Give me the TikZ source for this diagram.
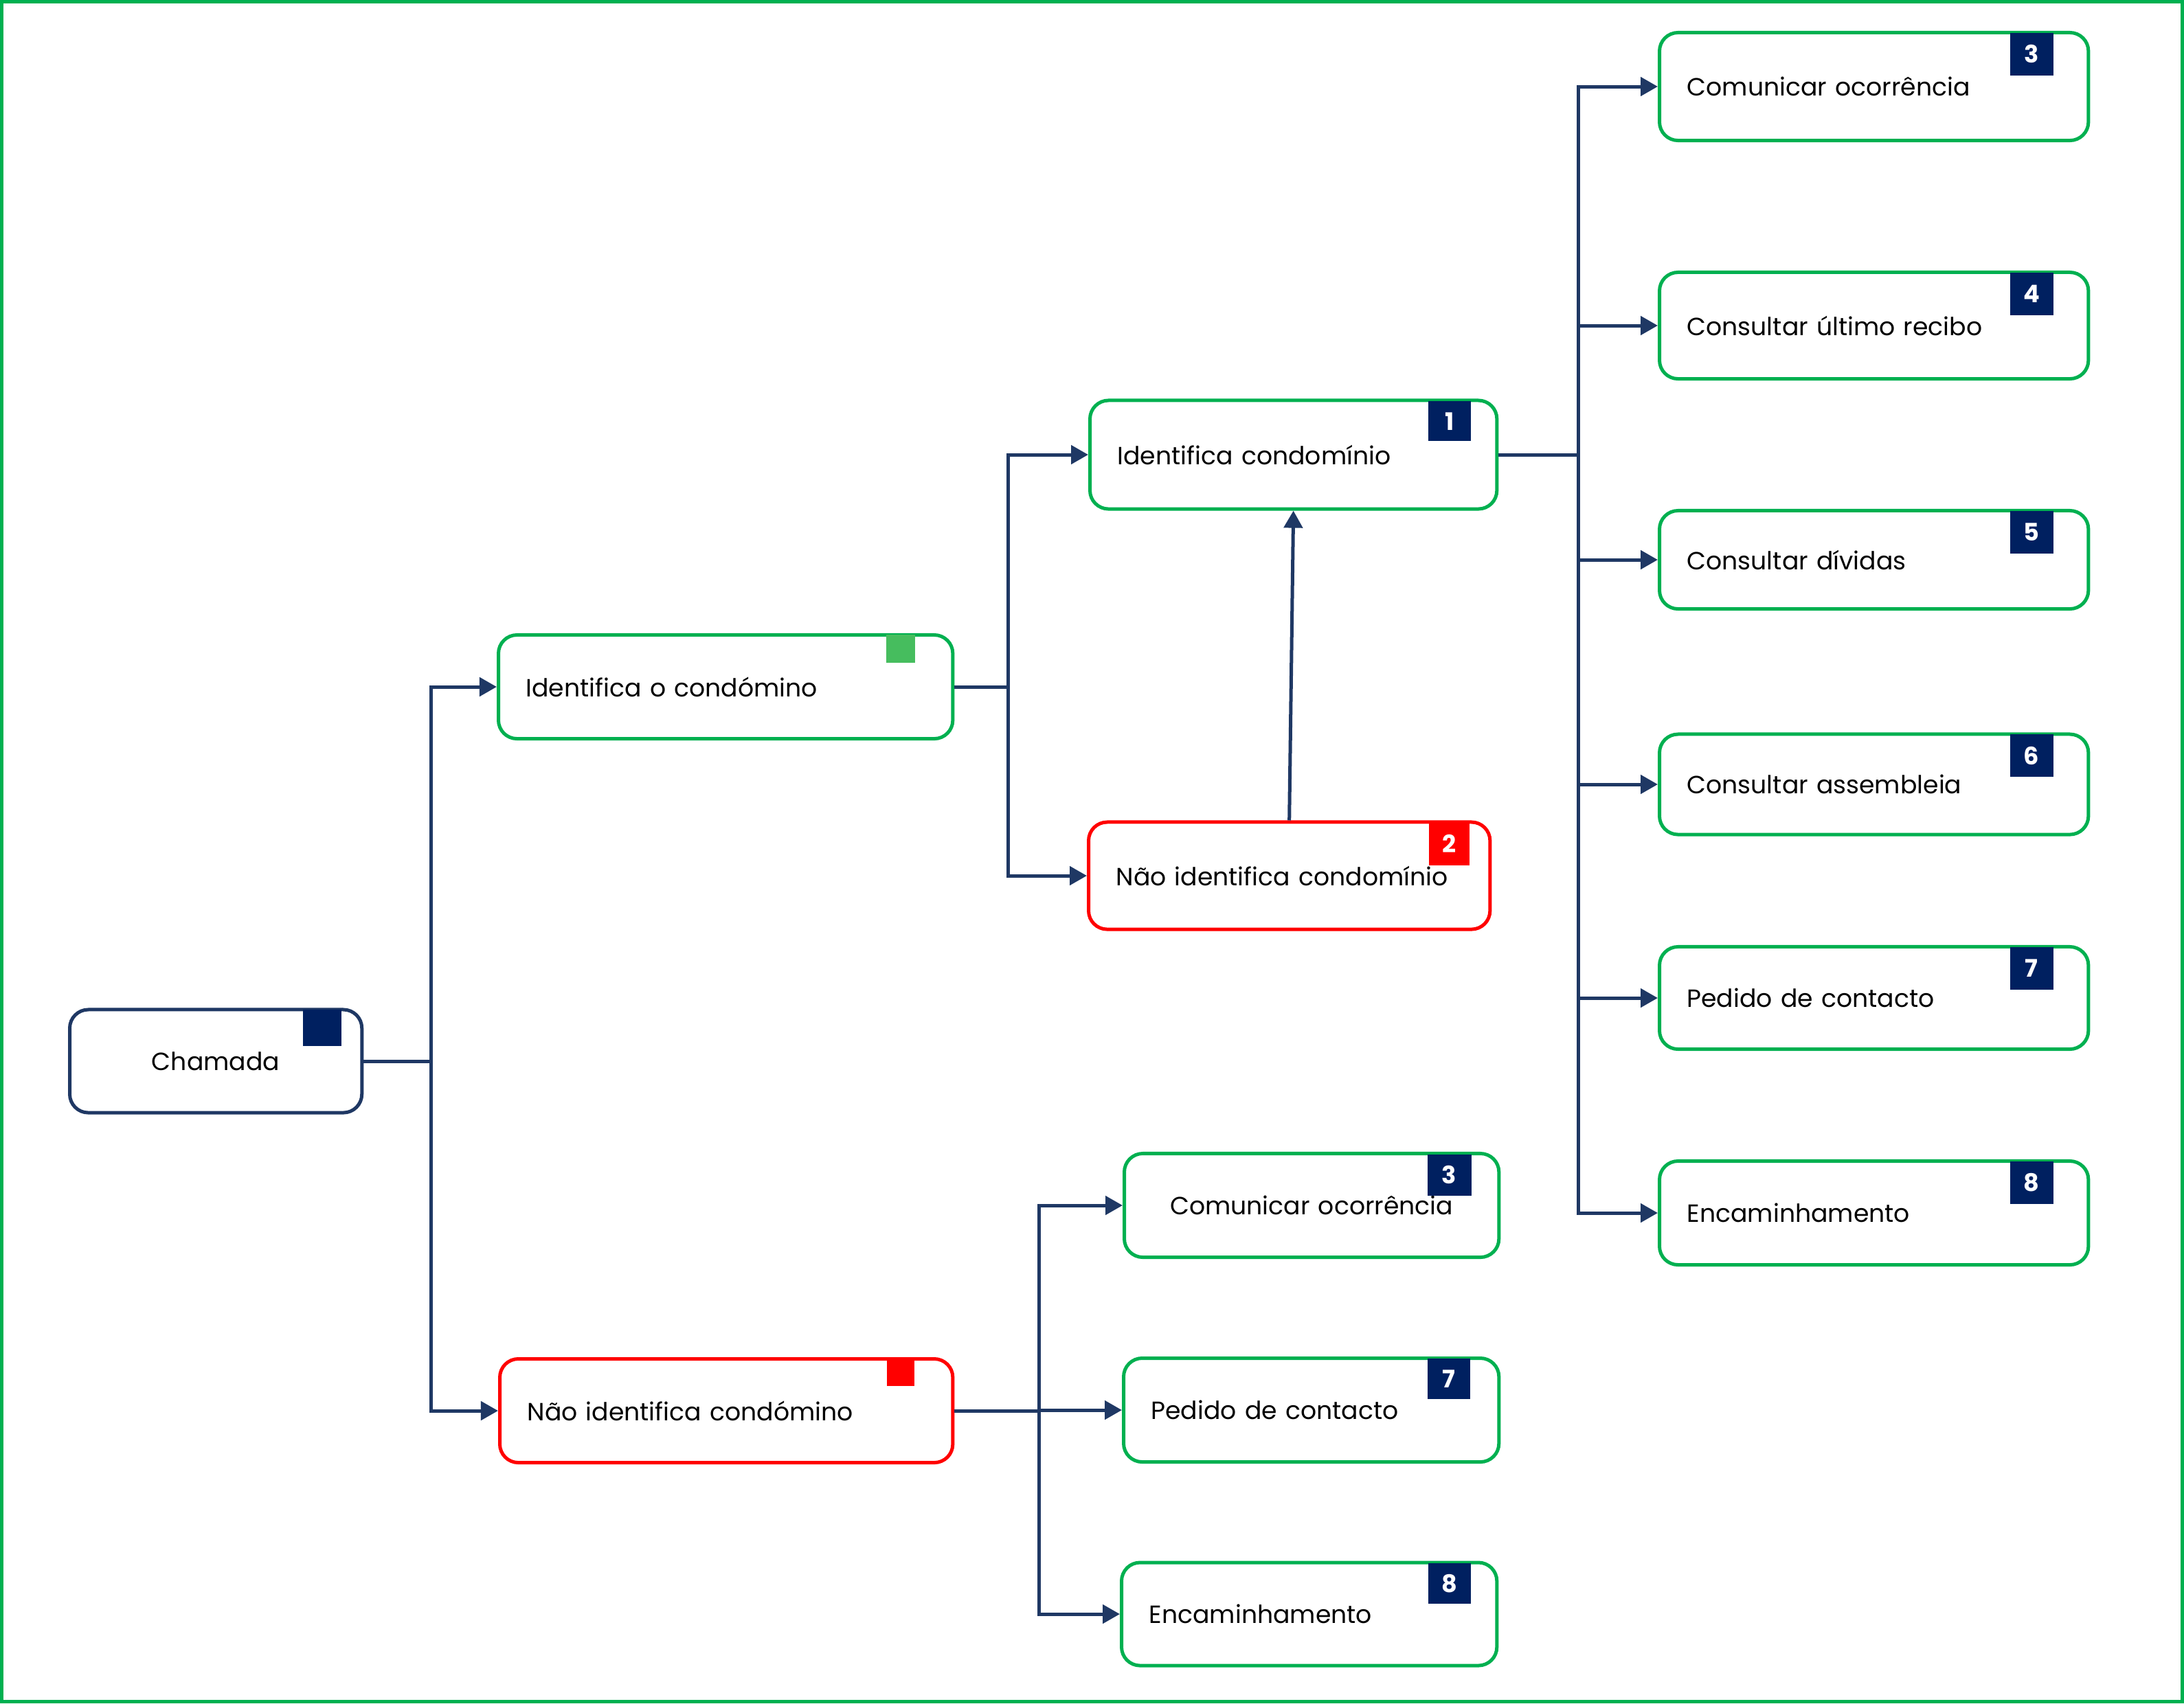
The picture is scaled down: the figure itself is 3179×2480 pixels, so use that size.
\documentclass[tikz,border=0pt]{standalone}
\usepackage{fontspec}
\setmainfont{Poppins}
\usetikzlibrary{positioning}
\usetikzlibrary{arrows.meta}
\definecolor{navy2}{RGB}{31, 56, 100}
\definecolor{tagblue}{RGB}{0, 32, 96}
\definecolor{green2}{RGB}{0, 176, 80}
\definecolor{lightgreen2}{RGB}{70, 189, 94}
\definecolor{red2}{RGB}{255, 0, 0}
\tikzset{
thickline/.style={line width=0.05cm},
box/.style={draw=#1, thickline, rounded corners=0.27cm, fill=white,
	anchor=west, inner xsep=0.4cm, inner ysep=0pt, align=left,
	font=\fontsize{10.3}{12}\selectfont},
tag/.style={fill=#1, text=white, inner sep=0pt, anchor=north east,
	font=\bfseries\fontsize{10}{12}\selectfont},
flow/.style={navy2, thickline, -{Triangle[length=0.25cm, width=0.27cm]}},
}

\begin{document}
\begin{tikzpicture}[x=0.01cm, y=-0.01cm]
\useasboundingbox (0,0) rectangle (3179,2480);
\draw[green2, line width=0.05cm] (2.5,2.5) rectangle (3176.5,2477.5);

%Place the nodes
\node[box=navy2, align=center, text width=3.45cm, minimum height=1.50cm] (cham) at (99,1545) {Chamada};
\node[box=green2, text width=5.81cm, minimum height=1.51cm] (ioc) at (723,1000) {Identifica o condómino};
\node[box=red2, text width=5.79cm, minimum height=1.51cm] (nic) at (725,2054) {Não identifica condómino};
\node[box=green2, text width=5.12cm, minimum height=1.58cm] (ic) at (1584,662) {Identifica condomínio};
\node[box=red2, text width=5.04cm, minimum height=1.56cm] (nicm) at (1582,1275) {Não identifica condomínio};

\foreach \nm/\yy/\hh/\txt/\num in {co1/126/1.57cm/Comunicar ocorrência/3,
	cur/474/1.55cm/Consultar último recibo/4, cd/815/1.43cm/Consultar dívidas/5,
	ca/1142/1.46cm/Consultar assembleia/6, pc1/1453/1.49cm/Pedido de contacto/7,
	e1/1766/1.51cm/Encaminhamento/8} {
	\node[box=green2, text width=5.44cm, minimum height=\hh] (\nm) at (2413,\yy) {\txt};
	\node[tag=tagblue, minimum width=0.63cm, minimum height=0.62cm] (t\nm) at ([xshift=-0.53cm, yshift=-0.02cm]\nm.north east) {\num};
}

\node[box=green2, align=center, text width=4.65cm, minimum height=1.51cm] (co2) at (1634,1755) {Comunicar ocorrência};
\node[box=green2, text width=4.66cm, minimum height=1.51cm] (pc2) at (1633,2053) {Pedido de contacto};
\node[box=green2, text width=4.66cm, minimum height=1.50cm] (e2) at (1630,2350) {Encaminhamento};

%Corner tags
\node[tag=tagblue, minimum width=0.55cm, minimum height=0.53cm] (tcham) at ([xshift=-0.32cm, yshift=-0.02cm]cham.north east) {};
\node[tag=lightgreen2, minimum width=0.42cm, minimum height=0.41cm] (tioc) at ([xshift=-0.57cm, yshift=-0.01cm]ioc.north east) {};
\node[tag=red2, minimum width=0.40cm, minimum height=0.39cm] (tnic) at ([xshift=-0.58cm, yshift=-0.02cm]nic.north east) {};
\node[tag=tagblue, minimum width=0.62cm, minimum height=0.58cm] (tic) at ([xshift=-0.40cm, yshift=-0.03cm]ic.north east) {1};
\node[tag=red2, minimum width=0.59cm, minimum height=0.63cm] (tnicm) at ([xshift=-0.32cm, yshift=-0.02cm]nicm.north east) {2};
\node[tag=tagblue, minimum width=0.64cm, minimum height=0.60cm] (tco2) at ([xshift=-0.42cm, yshift=-0.03cm]co2.north east) {3};
\node[tag=tagblue, minimum width=0.62cm, minimum height=0.59cm] (tpc2) at ([xshift=-0.44cm, yshift=-0.02cm]pc2.north east) {7};
\node[tag=tagblue, minimum width=0.62cm, minimum height=0.59cm] (te2) at ([xshift=-0.40cm, yshift=-0.03cm]e2.north east) {8};

%Connect them
\draw[flow] (cham.east) -- ++(98,0) |- (ioc.west);
\draw[flow] (cham.east) -- ++(98,0) |- (nic.west);

\draw[flow] (ioc.east) -- ++(78,0) |- (ic.west);
\draw[flow] (ioc.east) -- ++(78,0) |- (nicm.west);

\draw[flow] (nicm.north) -- (ic.south);

\foreach \nm in {co1, cur, cd, ca, pc1, e1}
	\draw[flow] (ic.east) -- ++(116,0) |- (\nm.west);

\foreach \nm in {co2, pc2, e2}
	\draw[flow] (nic.east) -- ++(123,0) |- (\nm.west);

\end{tikzpicture}
\end{document}
